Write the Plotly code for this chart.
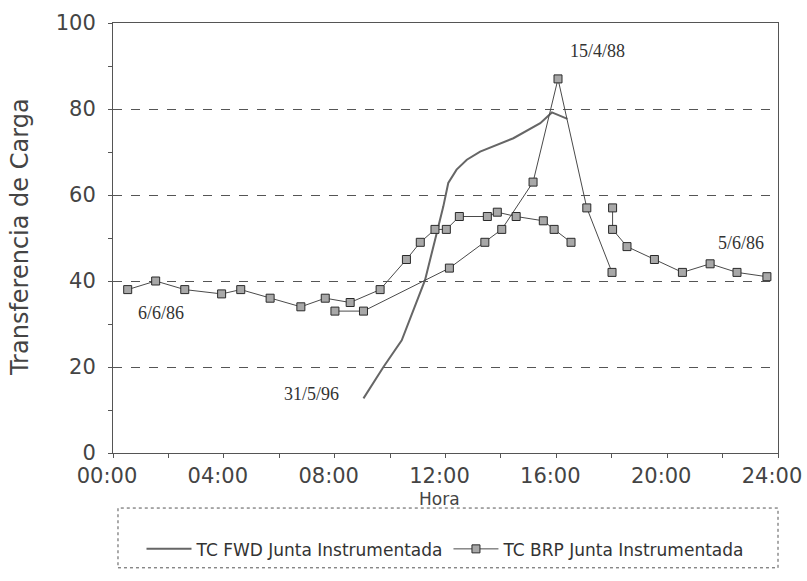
import plotly.graph_objects as go

# Hour of day (decimal hours) and load transfer (%) for each survey
fwd_hora = [9.04, 9.76, 10.42, 10.9, 11.26, 11.62, 11.92, 12.1, 12.4, 12.77, 13.25, 14.45, 15.42, 15.84, 16.4]
fwd_tc = [12.7, 20, 26.2, 34, 40.2, 49.5, 57.3, 62.8, 65.9, 68.2, 70.1, 73.2, 76.7, 79.2, 77.7]

brp_060686_hora = [0.53, 1.54, 2.59, 3.92, 4.61, 5.67, 6.78, 7.66, 8.56, 9.64, 10.59, 11.09,
                   11.62, 12.03, 12.5, 13.51, 13.87, 14.55, 15.53, 15.92, 16.53]
brp_060686_tc = [38, 40, 38, 37, 38, 36, 34, 36, 35, 38, 45, 49, 52, 52, 55, 55, 56, 55, 54, 52, 49]

brp_150488_hora = [8.01, 9.04, 12.14, 13.42, 14.03, 15.16, 16.06, 17.1, 18.01]
brp_150488_tc = [33, 33, 43, 49, 52, 63, 87, 57, 42]

brp_050686_hora = [18.03, 18.03, 18.55, 19.54, 20.55, 21.55, 22.52, 23.6]
brp_050686_tc = [57, 52, 48, 45, 42, 44, 42, 41]

x_ticks = [0, 4, 8, 12, 16, 20, 24]
x_tick_labels = ["00:00", "04:00", "08:00", "12:00", "16:00", "20:00", "24:00"]

x_title = "Hora"
y_title = "Transferencia de Carga"

# Date labels placed next to each curve
date_labels = ["6/6/86", "15/4/88", "5/6/86", "31/5/96"]
date_label_x = [1.73, 17.5, 22.67, 7.17]
date_label_y = [32.5, 93.4, 48.8, 13.8]

LINE = "#4a4a4a"
MARK = dict(symbol="square", size=8, color="#a8a8a8", line=dict(color="#2a2a2a", width=1))
TEXT = "#444"

fig = go.Figure()

fig.add_trace(go.Scatter(
    x=fwd_hora, y=fwd_tc, mode="lines", name="TC FWD Junta Instrumentada",
    line=dict(color="#666666", width=2), legendgroup="fwd",
))

brp_series = [
    (brp_060686_hora, brp_060686_tc),
    (brp_150488_hora, brp_150488_tc),
    (brp_050686_hora, brp_050686_tc),
]
for i, (hx, ty) in enumerate(brp_series):
    fig.add_trace(go.Scatter(
        x=hx, y=ty, mode="lines+markers", name="TC BRP Junta Instrumentada",
        line=dict(color=LINE, width=1), marker=MARK,
        legendgroup="brp", showlegend=(i == 0),
    ))

for txt, lx, ly in zip(date_labels, date_label_x, date_label_y):
    fig.add_annotation(x=lx, y=ly, text=txt, showarrow=False,
                       font=dict(family="Liberation Serif", size=18, color="#333"))

# Axis titles
fig.add_annotation(text=x_title, xref="paper", yref="paper", x=0.5, y=-0.107, xshift=-6,
                   xanchor="center", yanchor="middle", showarrow=False,
                   font=dict(family="DejaVu Sans", size=17, color=TEXT))
fig.add_annotation(text=y_title, xref="paper", yref="paper", x=-0.14, y=0.502, textangle=-90,
                   xanchor="center", yanchor="middle", showarrow=False,
                   font=dict(family="DejaVu Sans", size=24, color=TEXT))

# Dashed frame around the legend
fig.add_shape(type="rect", xref="paper", yref="paper",
              x0=0.0075, x1=1.0, y0=-0.267, y1=-0.128,
              line=dict(color="#555", width=1, dash="dot"))

tick_font = dict(family="DejaVu Sans", size=21, color=TEXT)

fig.update_xaxes(
    range=[0, 24], tickvals=x_ticks, ticktext=x_tick_labels,
    showgrid=False, zeroline=False, automargin=False,
    showline=True, linecolor="#555", linewidth=1, mirror=True,
    ticks="outside", ticklen=4, tickcolor="#555",
    minor=dict(dtick=2, ticks="outside", ticklen=4, tickcolor="#555"),
    tickfont=tick_font, ticklabeloverflow="allow", ticklabelshift=-6,
)
fig.update_yaxes(
    range=[0, 100], dtick=20,
    showgrid=True, gridcolor="#555", griddash="dash", gridwidth=1,
    zeroline=False, automargin=False,
    showline=True, linecolor="#555", linewidth=1, mirror=True,
    ticks="outside", ticklen=4, tickcolor="#555",
    minor=dict(dtick=10, ticks="outside", ticklen=4, tickcolor="#555", showgrid=False),
    tickfont=tick_font, ticklabelstandoff=8,
)

fig.update_layout(
    width=807, height=581,
    margin=dict(l=113, r=29, t=23, b=128, autoexpand=False),
    paper_bgcolor="white", plot_bgcolor="white",
    showlegend=True,
    legend=dict(orientation="h", x=0.5, xanchor="center", y=-0.224, yanchor="middle",
                font=dict(family="DejaVu Sans", size=17, color="#333"),
                bgcolor="rgba(0,0,0,0)", itemwidth=45),
)

fig.write_html("out.html")
